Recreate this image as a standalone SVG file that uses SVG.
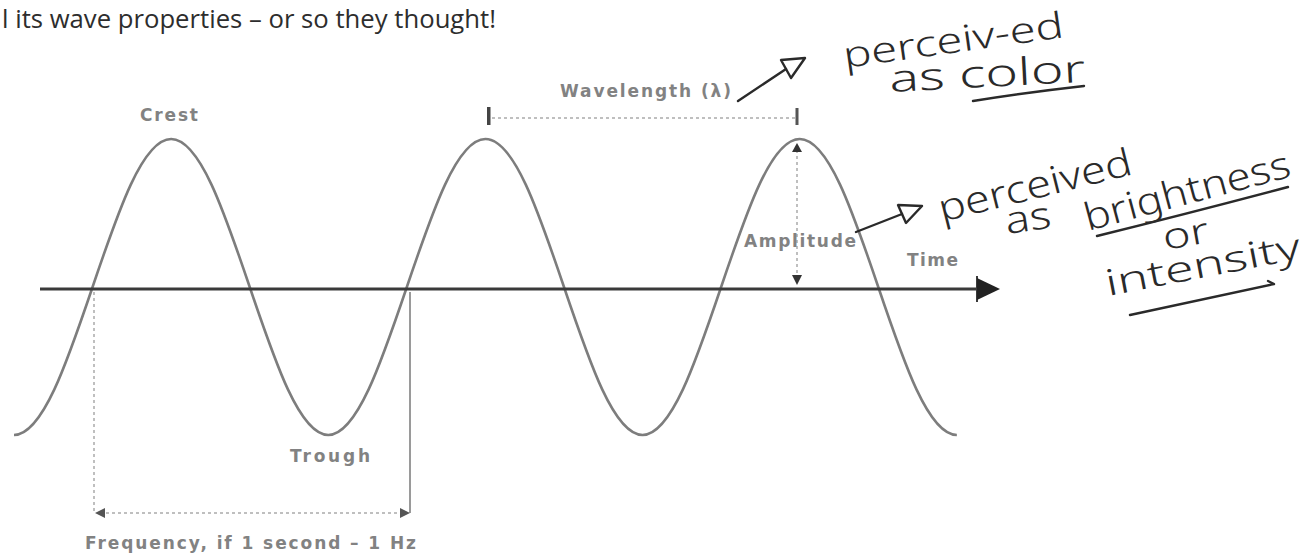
<svg xmlns="http://www.w3.org/2000/svg" width="1304" height="559" viewBox="0 0 1304 559">
<style>
.lbl{font-family:"DejaVu Sans","Liberation Sans",sans-serif;font-weight:bold;fill:#828282;font-size:17px}
.hand{font-family:"Noto Sans","DejaVu Sans",sans-serif;fill:#2a2a2a;font-weight:300}
.pen{fill:none;stroke:#2a2a2a;stroke-width:2.4;stroke-linecap:round;stroke-linejoin:round}
.wave{fill:none;stroke:#7d7d7d;stroke-width:2.6}
.dot{fill:none;stroke:#aaaaaa;stroke-width:1.5;stroke-dasharray:3 3}
</style>
<rect width="1304" height="559" fill="#ffffff"/>
<g id="header">
<text x="2" y="28" font-family="'Open Sans','Noto Sans',sans-serif" font-size="26" font-weight="500" fill="#2d2d2d" textLength="494" lengthAdjust="spacingAndGlyphs">l its wave properties – or so they thought!</text>
</g>
<g id="wave">
<path class="wave" d="M14,435 c28.47,0 52.97,-72.2 78.57,-148 c25.6,-75.8 50.1,-148 78.57,-148 c28.47,0 52.97,72.2 78.57,148 c25.6,75.8 50.1,148 78.57,148 c28.47,0 52.97,-72.2 78.57,-148 c25.6,-75.8 50.1,-148 78.57,-148 c28.47,0 52.97,72.2 78.57,148 c25.6,75.8 50.1,148 78.57,148 c28.47,0 52.97,-72.2 78.57,-148 c25.6,-75.8 50.1,-148 78.57,-148 c28.47,0 52.97,72.2 78.57,148 c25.6,75.8 50.1,148 78.57,148"/>
</g>
<g id="axis">
<line x1="40" y1="289" x2="980" y2="289" stroke="#3a3a3a" stroke-width="3"/>
<line x1="977" y1="276" x2="977" y2="302" stroke="#3a3a3a" stroke-width="2"/>
<polygon points="977,278 1000,289 977,300" fill="#222"/>
<text class="lbl" x="907" y="266" font-size="16" textLength="51">Time</text>
</g>
<g id="crest">
<text class="lbl" x="140" y="121" textLength="58">Crest</text>
</g>
<g id="trough">
<text class="lbl" x="290" y="462" font-size="19" textLength="80">Trough</text>
</g>
<g id="wavelength">
<text class="lbl" x="560" y="97" textLength="171">Wavelength (λ)</text>
<line class="dot" x1="492" y1="118" x2="795" y2="118"/>
<rect x="487" y="107" width="3.5" height="18" fill="#444"/>
<rect x="795.5" y="108" width="3" height="17" fill="#555"/>
</g>
<g id="amplitude">
<line class="dot" x1="797" y1="150" x2="797" y2="278" stroke="#999"/>
<polygon points="792,152 802,152 797,143" fill="#333"/>
<polygon points="792,275 802,275 797,285" fill="#333"/>
<text class="lbl" x="744" y="247" textLength="112">Amplitude</text>
</g>
<g id="frequency">
<line class="dot" x1="94" y1="292" x2="94" y2="513"/>
<line x1="410" y1="292" x2="410" y2="513" stroke="#9a9a9a" stroke-width="2"/>
<line class="dot" x1="100" y1="513" x2="404" y2="513" stroke="#c4c4c4"/>
<polygon points="95,513 105,508 105,518" fill="#555"/>
<polygon points="410,513 400,508 400,518" fill="#555"/>
<text class="lbl" x="85" y="549" font-size="18" textLength="331">Frequency, if 1 second – 1 Hz</text>
</g>
<g id="note-color">
<text class="hand" x="845" y="68" font-size="36" transform="rotate(-8 845 68)" textLength="222" lengthAdjust="spacingAndGlyphs">perceiv-ed</text>
<text class="hand" x="890" y="92" font-size="38" transform="rotate(-3 890 92)" textLength="196" lengthAdjust="spacingAndGlyphs">as color</text>
</g>
<g id="note-brightness">
<text class="hand" x="942" y="222" font-size="38" transform="rotate(-14 942 222)" textLength="198" lengthAdjust="spacingAndGlyphs">perceived</text>
<text class="hand" x="1007" y="234" font-size="38" transform="rotate(-8 1007 234)" textLength="46" lengthAdjust="spacingAndGlyphs">as</text>
<text class="hand" x="1088" y="231" font-size="38" transform="rotate(-15 1088 231)" textLength="212" lengthAdjust="spacingAndGlyphs">brightness</text>
<text class="hand" x="1165" y="250" font-size="36" transform="rotate(-10 1165 250)" textLength="46" lengthAdjust="spacingAndGlyphs">or</text>
<text class="hand" x="1108" y="296" font-size="36" transform="rotate(-11 1108 296)" textLength="198" lengthAdjust="spacingAndGlyphs">intensity</text>
</g>
<g id="connectors">
<path class="pen" d="M738,101 L786,69"/>
<polygon class="pen" points="781,60 805,58 791,78"/>
<path class="pen" d="M856,232 L902,214"/>
<polygon class="pen" points="898,205 922,206 906,223"/>
<path class="pen" d="M973,101 Q1030,92 1084,86"/>
<path class="pen" d="M1097,236 Q1190,213 1288,187"/>
<path class="pen" d="M1130,315 Q1200,300 1274,284 L1268,281"/>
</g>
</svg>
